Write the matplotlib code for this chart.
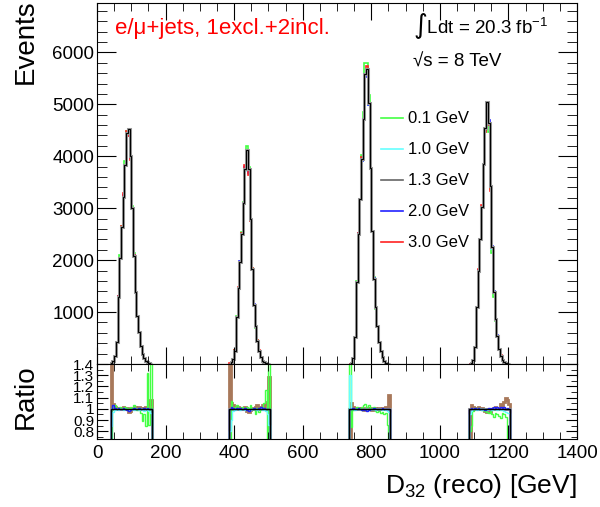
import numpy as np
import matplotlib
matplotlib.use("Agg")
import matplotlib.pyplot as plt
from matplotlib.lines import Line2D
from matplotlib.ticker import MultipleLocator

plt.rcParams['font.family'] = ['Liberation Sans', 'DejaVu Sans']
plt.rcParams['mathtext.default'] = 'regular'

# binning: 5 GeV bins, four separate mass windows
bin_width = 5
peak_starts = [40, 385, 735, 1085]

# nominal (1.3 GeV) histogram, events per bin
nominal = [
    [15, 50, 150, 420, 1300, 2050, 2630, 3220, 3830, 4440, 4520, 4000,
     3010, 2080, 1380, 930, 610, 350, 190, 110, 60, 30, 15, 5],
    [10, 30, 100, 256, 898, 1455, 1955, 2500, 3096, 3750, 4120, 3750,
     2790, 1830, 1140, 737, 450, 256, 128, 65, 30, 15, 8, 3],
    [5, 20, 120, 513, 1570, 2500, 3173, 3942, 4712, 5577, 5686, 5030,
     3782, 2564, 1635, 1090, 737, 417, 256, 130, 60, 25, 10, 4],
    [5, 25, 80, 320, 1090, 1795, 2404, 3032, 3846, 4550, 5045, 4647,
     3430, 2244, 1380, 865, 545, 290, 160, 80, 35, 15, 6, 2],
]

# ratio to nominal for each variation, per window
ratio_01 = [
    [0.70, 1.02, 1.03, 1.00, 1.01, 1.02, 1.01, 1.00, 1.02, 1.01, 1.00, 1.02,
     1.01, 1.03, 1.00, 0.99, 1.01, 0.96, 0.89, 0.95, 0.85, 1.32, 0.86, 1.50],
    [0.50, 1.07, 1.00, 1.02, 1.03, 1.01, 1.00, 1.02, 1.01, 1.00, 1.02, 1.01,
     1.03, 1.01, 1.00, 0.95, 1.01, 0.97, 1.00, 1.02, 1.05, 1.17, 0.60, 1.50],
    [1.50, 0.84, 0.99, 1.00, 1.02, 1.01, 1.00, 1.02, 1.03, 1.04, 1.02, 1.03,
     1.01, 1.00, 1.02, 0.98, 0.97, 0.98, 0.96, 0.97, 0.95, 0.96, 0.86, 0.70],
    [0.80, 0.85, 0.98, 1.01, 1.00, 1.01, 1.00, 0.99, 1.00, 0.98, 0.97, 0.96,
     0.98, 0.95, 0.93, 0.96, 0.95, 0.94, 0.92, 0.96, 0.95, 0.93, 0.70, 0.70],
]
ratio_10 = [
    [0.85, 0.97, 0.99, 1.00, 0.99, 1.00, 1.00, 0.99, 1.00, 1.00, 0.99, 1.00,
     1.00, 0.99, 1.00, 1.00, 0.99, 1.00, 0.99, 0.98, 1.00, 0.99, 0.98, 0.96],
    [0.80, 0.90, 0.98, 0.99, 1.00, 1.00, 0.99, 1.00, 1.00, 0.99, 1.00, 1.00,
     0.99, 1.00, 1.00, 1.00, 0.99, 1.00, 1.00, 0.99, 0.99, 0.98, 0.95, 0.86],
    [1.30, 1.00, 1.00, 0.99, 1.00, 1.00, 1.00, 0.99, 1.00, 1.00, 1.00, 0.99,
     1.00, 1.00, 1.00, 0.99, 1.00, 1.00, 1.00, 0.99, 1.00, 0.99, 0.98, 0.97],
    [0.95, 0.98, 1.00, 1.00, 0.99, 1.00, 1.00, 0.99, 1.00, 1.00, 0.99, 1.00,
     1.00, 0.99, 1.00, 1.00, 0.99, 1.00, 0.99, 1.00, 0.98, 0.97, 0.96, 0.96],
]
ratio_20 = [
    [1.00, 1.03, 1.01, 1.00, 1.01, 1.00, 1.00, 1.01, 1.00, 0.99, 0.98, 0.99,
     1.00, 1.01, 1.00, 1.00, 1.01, 1.00, 1.00, 1.01, 1.00, 1.01, 1.00, 1.00],
    [1.00, 1.02, 1.01, 1.00, 1.01, 1.00, 1.01, 1.00, 1.00, 1.01, 0.99, 0.98,
     1.00, 1.00, 1.01, 1.00, 1.00, 1.01, 1.02, 1.00, 1.01, 1.00, 1.00, 1.00],
    [1.00, 1.00, 1.01, 1.00, 1.00, 1.01, 1.00, 0.99, 1.00, 0.99, 0.98, 0.99,
     1.00, 1.00, 1.01, 1.00, 1.00, 1.00, 1.00, 1.01, 1.00, 1.00, 1.00, 1.00],
    [1.00, 1.01, 1.00, 1.01, 1.00, 1.01, 1.00, 1.00, 1.00, 0.99, 1.00, 1.01,
     1.00, 1.01, 1.02, 1.01, 1.02, 1.01, 1.02, 1.01, 1.02, 1.00, 1.01, 1.00],
]
ratio_30 = [
    [1.50, 1.04, 1.02, 1.01, 1.01, 1.00, 1.01, 1.02, 1.00, 1.01, 0.97, 0.98,
     1.00, 1.01, 1.02, 1.00, 1.02, 1.01, 1.00, 1.01, 1.02, 1.00, 1.04, 1.08],
    [1.50, 1.05, 1.03, 1.02, 1.01, 1.02, 1.00, 1.01, 1.00, 1.02, 0.98, 0.97,
     0.99, 1.01, 1.00, 1.02, 1.03, 1.02, 1.01, 1.03, 1.02, 1.04, 1.06, 1.28],
    [0.75, 1.05, 1.02, 1.01, 1.00, 1.01, 1.00, 1.01, 0.99, 1.00, 1.01, 1.00,
     1.01, 0.99, 1.00, 1.01, 1.00, 1.01, 1.00, 1.01, 1.00, 1.02, 1.01, 1.12],
    [0.75, 1.03, 1.02, 1.00, 1.01, 1.02, 1.00, 1.01, 1.00, 0.98, 0.97, 0.99,
     0.97, 1.00, 1.01, 1.02, 1.00, 1.01, 1.04, 1.02, 1.06, 1.10, 1.08, 1.04],
]

labels = ['0.1 GeV', '1.0 GeV', '1.3 GeV', '2.0 GeV', '3.0 GeV']
green, cyan, blue, red = '#44ff44', '#66ffff', '#2222ff', '#ff2222'
brown = '#a8785a'
grey = '#999999'

fig = plt.figure(figsize=(6, 5.07), dpi=100)
ax = fig.add_axes([0.1617, 0.282, 0.8, 0.712])
rax = fig.add_axes([0.1617, 0.134, 0.8, 0.148], sharex=ax)

for k in range(4):
    nom = np.array(nominal[k], dtype=float)
    edges = peak_starts[k] + bin_width * np.arange(len(nom) + 1)
    # main panel
    for rat, col in [(ratio_01, green), (ratio_10, cyan), (ratio_20, blue), (ratio_30, red)]:
        ax.stairs(nom * np.array(rat[k]), edges, color=col, lw=1.2)
    ax.stairs(nom, edges, color=grey, lw=2.2)
    ax.stairs(nom, edges, color='black', lw=0.8)
    # ratio panel
    ones = np.ones_like(nom)
    rax.stairs(ratio_30[k], edges, color=brown, lw=2.0)
    rax.stairs(ones, edges, color=grey, lw=2.2)
    rax.stairs(ratio_01[k], edges, color=green, lw=1.0)
    rax.stairs(ratio_10[k], edges, color=cyan, lw=1.0)
    rax.stairs(ratio_20[k], edges, color=blue, lw=1.0)
    rax.stairs(ones, edges, color='black', lw=1.0)

ax.set_xlim(0, 1400)
ax.set_ylim(0, 6950)
rax.set_ylim(0.73, 1.4)

ax.set_yticks([1000, 2000, 3000, 4000, 5000, 6000])
ax.yaxis.set_minor_locator(MultipleLocator(200))
ax.xaxis.set_major_locator(MultipleLocator(200))
ax.xaxis.set_minor_locator(MultipleLocator(50))
ax.tick_params(which='both', direction='in', top=True, right=True,
               labelbottom=False, labelsize=13.5, pad=2)
ax.tick_params(axis='y', which='major', length=14)
ax.tick_params(axis='y', which='minor', length=7)
ax.tick_params(axis='x', which='major', length=12)
ax.tick_params(axis='x', which='minor', length=6)

rax.set_yticks([0.8, 0.9, 1.0, 1.1, 1.2, 1.3, 1.4])
rax.set_yticklabels(['0.8', '0.9', '1', '1.1', '1.2', '1.3', '1.4'])
rax.yaxis.set_minor_locator(MultipleLocator(0.05))
rax.tick_params(which='both', direction='in', top=True, right=True)
rax.tick_params(axis='y', which='major', length=8, labelsize=11, pad=2)
rax.tick_params(axis='y', which='minor', length=4)
rax.tick_params(axis='x', which='major', length=10, labelsize=13.5, pad=4)
rax.tick_params(axis='x', which='minor', length=5)

ax.set_ylabel('Events', fontsize=20, loc='top')
ax.yaxis.set_label_coords(-0.122, 1.01)
rax.set_ylabel('Ratio', fontsize=20)
rax.yaxis.set_label_coords(-0.122, 0.56)
rax.set_xlabel('D$_{32}$ (reco) [GeV]', fontsize=19, loc='right')
rax.xaxis.set_label_coords(1.0, -0.44)

ax.text(0.0375, 0.914, 'e/\u03bc+jets, 1excl.+2incl.', color='red', fontsize=16,
        transform=ax.transAxes, va='baseline')
ax.text(0.658, 0.917, '\u222bLdt = 20.3 fb$^{-1}$', fontsize=13.5,
        transform=ax.transAxes, va='baseline')
ax.text(0.658, 0.823, '\u221as = 8 TeV', fontsize=13.5,
        transform=ax.transAxes, va='baseline')

handles = [Line2D([], [], color=c, lw=1.2) for c in [green, cyan, '#666666', blue, red]]
ax.legend(handles, labels, loc='upper left', bbox_to_anchor=(0.592, 0.70),
          frameon=False, fontsize=12, handlelength=1.3, handletextpad=0.3,
          labelspacing=0.96, borderpad=0, borderaxespad=0)

fig.savefig('out.png', dpi=100)
